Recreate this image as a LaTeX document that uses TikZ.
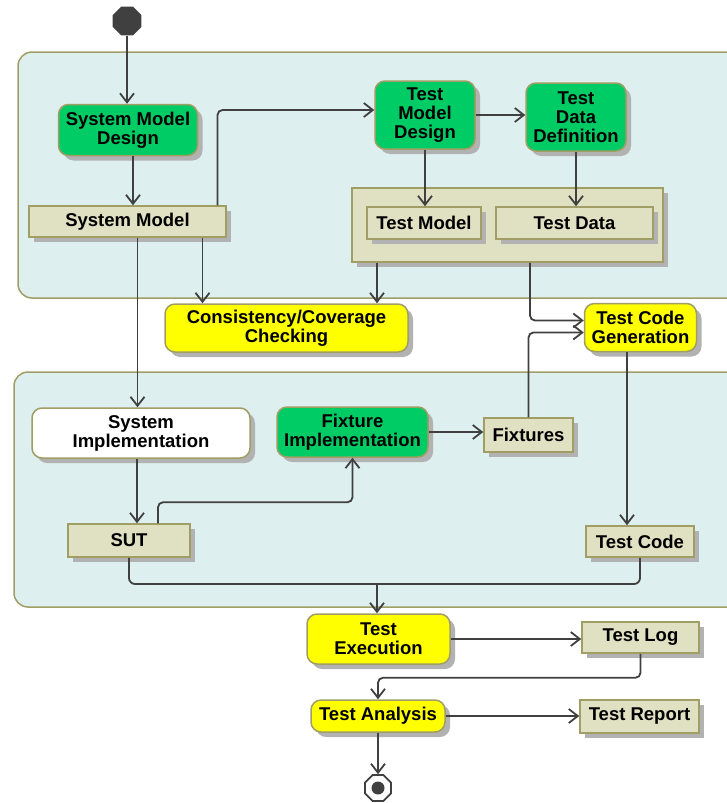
\documentclass[tikz,border=0pt]{standalone}
\usepackage{fontspec}
\setmainfont{Liberation Sans}
\usetikzlibrary{shapes.geometric,arrows.meta,positioning,shadows}

\definecolor{lanefill}{RGB}{221,239,238}
\definecolor{laneline}{RGB}{160,158,100}
\definecolor{objfill}{RGB}{224,224,194}
\definecolor{actgreen}{RGB}{0,204,102}
\definecolor{actyellow}{RGB}{255,255,0}
\definecolor{flowgray}{RGB}{64,64,64}

\begin{document}
\begin{tikzpicture}[
    x=1pt, y=-1pt,
    lane/.style={draw=laneline, line width=1.5pt, fill=lanefill, rounded corners=14pt},
    box/.style={rectangle, draw=laneline, line width=1.5pt, inner sep=0pt, align=center,
        font=\fontsize{18.5}{19}\selectfont\bfseries,
        drop shadow={shadow xshift=5pt, shadow yshift=-5pt, fill=black!30, opacity=1}},
    action/.style={box, rounded corners=10pt},
    object/.style={box, fill=objfill},
    start/.style={regular polygon, regular polygon sides=8, minimum size=31pt, inner sep=0pt, fill=flowgray},
    stop/.style={regular polygon, regular polygon sides=8, minimum size=28pt, inner sep=0pt, fill=white,
        draw=flowgray, line width=1.8pt},
    arrow/.style={-{Straight Barb[length=9pt,width=14pt,line width=1.8pt]}, line width=1.8pt, draw=flowgray, rounded corners=5pt},
    flowline/.style={line width=1.8pt, draw=flowgray, rounded corners=6pt}
]
\useasboundingbox (0,0) rectangle (727,803);
\clip (0,0) rectangle (727,803);

% partitions
\draw[lane] (18,52) rectangle (770,298);
\draw[lane] (14,372) rectangle (770,607);

\node[start] (init) at (127,21) {};
\node[action, fill=actgreen, minimum width=139, minimum height=51] (smd) at (128,130) {System Model\\Design};
\node[object, minimum width=197, minimum height=31] (smodel) at (127.5,221.5) {System Model};
\node[action, fill=actgreen, minimum width=100, minimum height=68] (tmd) at (425,115) {Test\\Model\\Design};
\node[action, fill=actgreen, minimum width=100, minimum height=68] (tdd) at (576,117) {Test\\Data\\Definition};
\node[object, minimum width=311, minimum height=74] (tset) at (507.5,225) {};
\node[object, minimum width=114, minimum height=32] (tmodel) at (424,223) {Test Model};
\node[object, minimum width=157, minimum height=32] (tdata) at (574.5,223) {Test Data};
\node[action, fill=actyellow, minimum width=243, minimum height=48] (ccc) at (286.5,328) {Consistency/Coverage\\Checking};
\node[action, fill=actyellow, minimum width=112, minimum height=48] (tcg) at (640.5,327.5) {Test Code\\Generation};

\node[action, fill=white, minimum width=218, minimum height=50] (simpl) at (141,433) {System\\Implementation};
\node[action, fill=actgreen, minimum width=151, minimum height=50] (fimpl) at (352.5,432) {Fixture\\Implementation};
\node[object, minimum width=89, minimum height=34] (fixt) at (528.5,435) {Fixtures};
\node[object, minimum width=122, minimum height=33] (sut) at (129,540.5) {SUT};
\node[object, minimum width=108, minimum height=31] (tcode) at (640,541.5) {Test Code};

\node[action, fill=actyellow, minimum width=143, minimum height=50] (texec) at (378.5,639) {Test\\Execution};
\node[object, minimum width=117, minimum height=31] (tlog) at (640.5,637.5) {Test Log};
\node[action, fill=actyellow, minimum width=134, minimum height=32] (tana) at (378,716) {Test Analysis};
\node[object, minimum width=119, minimum height=33] (trep) at (639.5,716.5) {Test Report};
\node[stop] (final) at (378,788) {};
\node[circle, fill=flowgray, minimum size=13pt, inner sep=0pt] (finaldot) at (final) {};

\coordinate (smdout) at ([xshift=5pt]smd.south);
\coordinate (smout) at ([xshift=75pt]smodel.south);
\coordinate (smsi) at ([xshift=10pt]smodel.south);
\coordinate (sisut) at ([xshift=-4pt]simpl.south);
\coordinate (tsetout) at ([xshift=-130.5pt]tset.south);
\coordinate (tcgout) at ([xshift=-13.5pt]tcg.south);
\coordinate (merge) at (377,584);

\draw[arrow] (init) -- (init |- smd.north);
\draw[arrow] (smdout) -- (smdout |- smodel.north);
\draw[arrow] ([xshift=90pt]smodel.north) |- ([yshift=5pt]tmd.west);
\draw[arrow] (smout) -- (smout |- ccc.north);
\draw[arrow] (smsi) -- (smsi |- simpl.north);
\draw[arrow] (tmd.east) -- (tmd.east -| tdd.west);
\draw[arrow] (tmd.south) -- (tmd.south |- tmodel.north);
\draw[arrow] (tdd.south) -- (tdd.south |- tdata.north);
\draw[arrow] (tsetout) -- (tsetout |- ccc.north);
\draw[arrow] ([xshift=22.5pt]tset.south) |- ([yshift=7pt]tcg.west);
\draw[arrow] (fixt.north) |- ([yshift=-5pt]tcg.west);
\draw[arrow] (tcgout) -- (tcgout |- tcode.north);
\draw[arrow] (sisut) -- (sisut |- sut.north);
\draw[arrow] ([xshift=29pt]sut.north) -- ++(0,-21) -| (fimpl.south);
\draw[arrow] (fimpl.east) -- (fimpl.east -| fixt.west);
\draw[flowline] (sut.south) |- (merge);
\draw[flowline] (tcode.south) |- (merge);
\draw[arrow] (merge) -- (merge |- texec.north);
\draw[arrow] (texec.east) -- (texec.east -| tlog.west);
\draw[arrow] (tlog.south) -- ++(0,24) -| (tana.north);
\draw[arrow] (tana.east) -- (tana.east -| trep.west);
\draw[arrow] (tana.south) -- (final);
\end{tikzpicture}
\end{document}
